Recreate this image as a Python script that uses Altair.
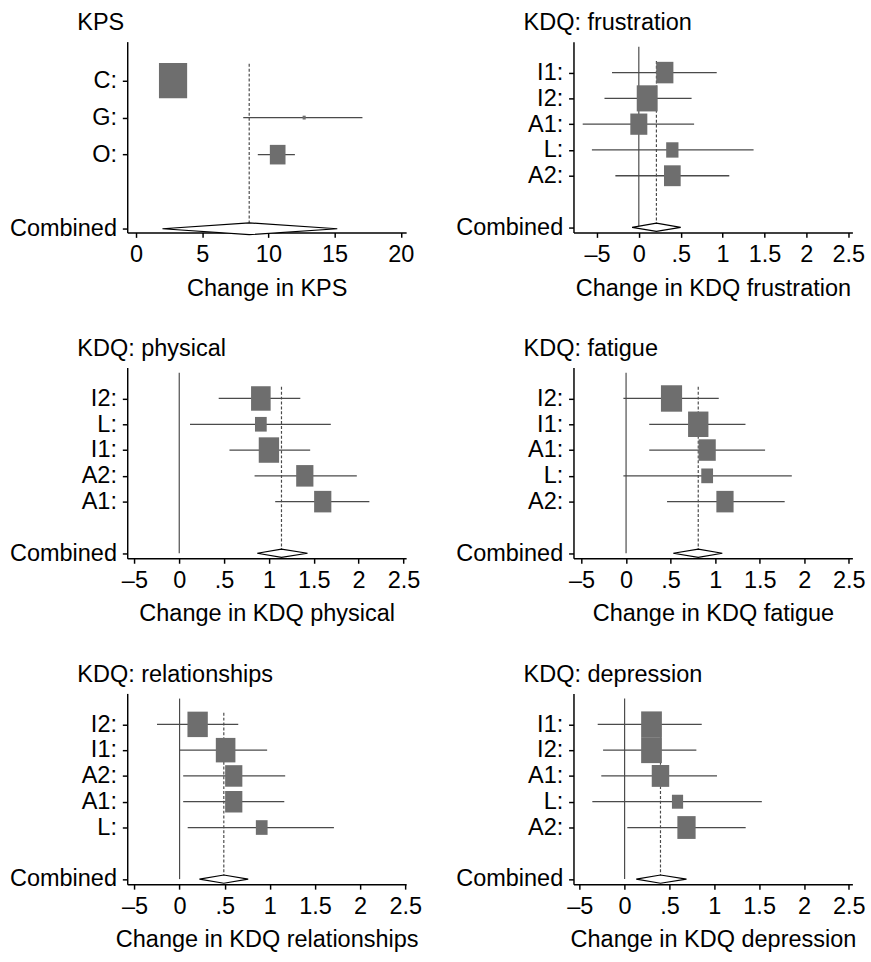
import altair as alt
import pandas as pd

# ---------------- data ----------------
panel_titles = ["KPS", "KDQ: frustration", "KDQ: physical",
                "KDQ: fatigue", "KDQ: relationships", "KDQ: depression"]
axis_titles = ["Change in KPS", "Change in KDQ frustration", "Change in KDQ physical",
               "Change in KDQ fatigue", "Change in KDQ relationships", "Change in KDQ depression"]

# KPS
kps_study = ["C", "G", "O"]
kps_est = [2.8, 12.7, 10.7]
kps_lo = [2.2, 8.1, 9.2]
kps_hi = [3.4, 17.1, 12.0]
kps_weight = [75.7, 0.9, 23.4]
kps_combined = [2.0, 8.55, 15.2]          # lower, estimate, upper

# KDQ: frustration
fru_study = ["I1", "I2", "A1", "L", "A2"]
fru_est = [0.31, 0.10, 0.00, 0.40, 0.40]
fru_lo = [-0.32, -0.41, -0.67, -0.56, -0.28]
fru_hi = [0.93, 0.63, 0.66, 1.37, 1.08]
fru_weight = [20.4, 30.1, 19.9, 10.4, 19.2]
fru_combined = [-0.08, 0.21, 0.50]

# KDQ: physical
phy_study = ["I2", "L", "I1", "A2", "A1"]
phy_est = [0.91, 0.91, 1.00, 1.40, 1.60]
phy_lo = [0.44, 0.12, 0.56, 0.84, 1.07]
phy_hi = [1.35, 1.69, 1.46, 1.98, 2.12]
phy_weight = [25.1, 9.0, 27.1, 19.4, 19.4]
phy_combined = [0.87, 1.14, 1.43]

# KDQ: fatigue
fat_study = ["I2", "I1", "A1", "L", "A2"]
fat_est = [0.51, 0.81, 0.91, 0.91, 1.11]
fat_lo = [-0.03, 0.26, 0.26, -0.03, 0.46]
fat_hi = [1.04, 1.34, 1.56, 1.86, 1.78]
fat_weight = [28.1, 26.0, 18.6, 8.7, 18.6]
fat_combined = [0.53, 0.81, 1.08]

# KDQ: relationships
rel_study = ["I2", "I1", "A2", "A1", "L"]
rel_est = [0.20, 0.51, 0.60, 0.60, 0.91]
rel_lo = [-0.25, 0.00, 0.04, 0.04, 0.09]
rel_hi = [0.65, 0.97, 1.17, 1.16, 1.71]
rel_weight = [27.1, 25.1, 19.4, 19.4, 9.0]
rel_combined = [0.22, 0.49, 0.76]

# KDQ: depression
dep_study = ["I1", "I2", "A1", "L", "A2"]
dep_est = [0.30, 0.30, 0.40, 0.59, 0.69]
dep_lo = [-0.30, -0.24, -0.26, -0.36, 0.03]
dep_hi = [0.86, 0.80, 1.03, 1.53, 1.35]
dep_weight = [26.5, 26.5, 18.8, 7.7, 20.5]
dep_combined = [0.13, 0.40, 0.69]

kps_ticks = [0, 5, 10, 15, 20]
kdq_ticks = [-0.5, 0, 0.5, 1, 1.5, 2, 2.5]

# ---------------- styling ----------------
FONT = "Liberation Sans"
FS = 24
W, H = 285, 195
BOX_PATH = "M-0.8,-1H0.8V1H-0.8Z"
BOX_COLOR = "#6e6e6e"
LINE_COLOR = "#4a4a4a"
DIAMOND_HALF = 0.16

panels_data = [
    (kps_study, kps_est, kps_lo, kps_hi, kps_weight, kps_combined, [-0.66, 20.4], kps_ticks, False, 1712),
    (fru_study, fru_est, fru_lo, fru_hi, fru_weight, fru_combined, [-0.78, 2.55], kdq_ticks, True, 2368),
    (phy_study, phy_est, phy_lo, phy_hi, phy_weight, phy_combined, [-0.58, 2.53], kdq_ticks, True, 2494),
    (fat_study, fat_est, fat_lo, fat_hi, fat_weight, fat_combined, [-0.59, 2.54], kdq_ticks, True, 2598),
    (rel_study, rel_est, rel_lo, rel_hi, rel_weight, rel_combined, [-0.58, 2.51], kdq_ticks, True, 2494),
    (dep_study, dep_est, dep_lo, dep_hi, dep_weight, dep_combined, [-0.57, 2.54], kdq_ticks, True, 2648),
]


def make_panel(i):
    study, est, lo, hi, weight, comb, xdom, xticks, zero_line, box_area = panels_data[i]
    n = len(study)
    crow = n + 2
    df = pd.DataFrame({"study": study, "est": est, "lo": lo, "hi": hi,
                       "weight": weight, "row": list(range(1, n + 1))})
    dia = pd.DataFrame({"x": [comb[0], comb[1], comb[2]],
                        "y": [crow, crow - DIAMOND_HALF, crow],
                        "y2": [crow, crow + DIAMOND_HALF, crow]})
    cdf = pd.DataFrame({"est": [comb[1]], "top": [0.55], "bottom": [crow]})

    ydom = [-0.05, 5.1] if n == 3 else [-0.2, 7.2]
    labels = [""] + [s + ":" for s in study] + [""] + ["Combined"]
    label_expr = "[" + ",".join("'" + l + "'" for l in labels) + "][datum.value]"

    xscale = alt.Scale(domain=xdom, nice=False, zero=False)
    yscale = alt.Scale(domain=ydom, nice=False, zero=False, reverse=True)
    xaxis = alt.Axis(values=xticks, title=axis_titles[i], labelOverlap=False, labelFlush=False,
                     labelExpr="datum.value == -0.5 ? '\u20135' : datum.value == 0.5 ? '.5' : format(datum.value, '~g')")
    yaxis = alt.Axis(values=list(range(1, n + 1)) + [crow], labelExpr=label_expr,
                     title=None, labelOverlap=False, labelFlush=False)

    def X(f):
        return alt.X(f, scale=xscale, axis=xaxis)

    def Y(f):
        return alt.Y(f, scale=yscale, axis=yaxis)

    ci = alt.Chart(df).mark_rule(color=LINE_COLOR, strokeWidth=1.3).encode(
        x=X("lo:Q"), x2="hi:Q", y=Y("row:Q"),
    )
    boxes = alt.Chart(df).mark_point(shape=BOX_PATH, filled=True, opacity=1,
                                     color=BOX_COLOR).encode(
        x=X("est:Q"), y=Y("row:Q"),
        size=alt.Size("weight:Q", scale=alt.Scale(domain=[0, 100], range=[0, box_area]), legend=None),
    )
    dashed = alt.Chart(cdf).mark_rule(color=LINE_COLOR, strokeDash=[3, 2], strokeWidth=1.2).encode(
        x=X("est:Q"), y=Y("top:Q"), y2="bottom:Q",
    )
    diamond = alt.Chart(dia).mark_area(fill="white", stroke="black", strokeWidth=1.2,
                                       opacity=1, interpolate="linear").encode(
        x=X("x:Q"), y=Y("y:Q"), y2="y2:Q",
    )
    layers = []
    if zero_line:
        zdf = pd.DataFrame({"x": [0], "top": [0], "bottom": [crow]})
        zero = alt.Chart(zdf).mark_rule(color=LINE_COLOR, strokeWidth=1.2).encode(
            x=X("x:Q"), y=Y("top:Q"), y2="bottom:Q",
        )
        layers.append(zero)
    layers += [dashed, ci, boxes, diamond]
    return alt.layer(*layers).properties(
        width=W, height=H,
        title=alt.TitleParams(panel_titles[i], anchor="start", frame="group", dx=-51,
                              fontSize=FS, fontWeight="normal", font=FONT, color="black", offset=7),
    ).resolve_scale(size="independent")


panels = [make_panel(i) for i in range(6)]

chart = alt.concat(*panels, columns=2, spacing={"row": 38, "column": 34}).resolve_scale(
    x="independent", y="independent", size="independent"
).properties(
    padding={"left": 9, "top": 1, "right": 5, "bottom": 5},
    background="white",
).configure_view(stroke=None).configure_axis(
    grid=False, domainColor="black", domainWidth=1.5, tickColor="black", tickWidth=1.5,
    tickSize=5, labelFont=FONT, labelFontSize=FS, labelColor="black", labelPadding=6,
    titleFont=FONT, titleFontSize=FS, titleFontWeight="normal", titleColor="black",
    titlePadding=10, labelOverlap=False, labelFlush=False,
)

chart.save("out.html", embed_options={"renderer": "svg", "actions": False})
